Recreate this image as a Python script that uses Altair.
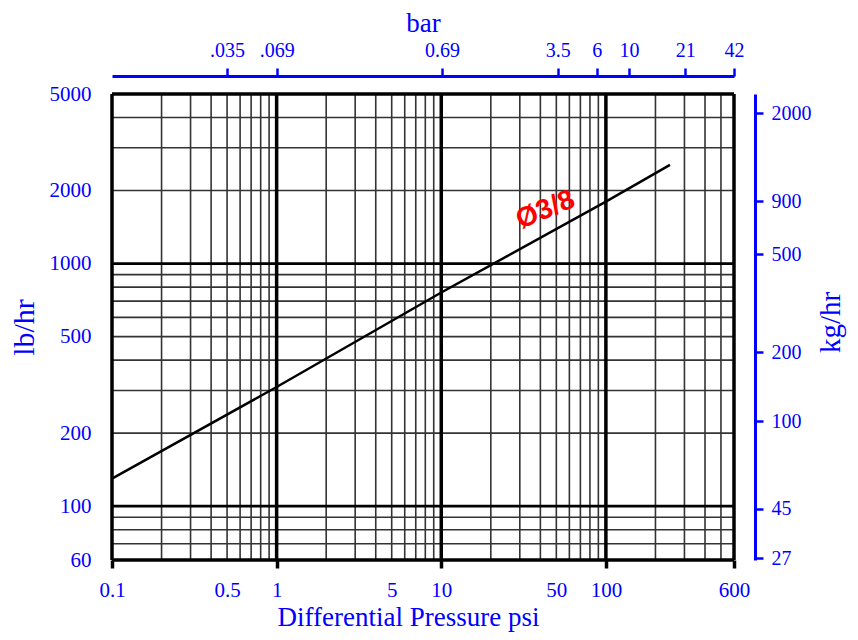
import altair as alt
import pandas as pd

# ---- data ----
psi = [0.1, 1, 10, 100, 245]
lbhr = [130, 310, 760, 1800, 2550]
curve_label = ["Ø3/8"]
label_psi = [43]
label_lb = [1660]

x_minor = [0.2, 0.3, 0.4, 0.5, 0.6, 0.7, 0.8, 0.9,
           2, 3, 4, 5, 6, 7, 8, 9,
           20, 30, 40, 50, 60, 70, 80, 90,
           200, 300, 400, 500]
x_major = [1, 10, 100]
x_frame = [0.1, 600]
y_minor = [70, 80, 90, 200, 300, 400, 500, 600, 700, 800, 900, 2000, 3000, 4000]
y_major = [100, 1000]
y_frame = [60, 5000]

bottom_vals = [0.1, 0.5, 1, 5, 10, 50, 100, 600]
bottom_no_tick = [0.5, 5, 50]
left_vals = [60, 100, 200, 500, 1000, 2000, 5000]
top_labels = [".035", ".069", "0.69", "3.5", "6", "10", "21", "42"]
top_pos_psi = [0.5, 1, 10.1, 51, 88, 138, 303, 600]
right_labels = ["2000", "900", "500", "200", "100", "45", "27"]
right_pos_lb = [4170, 1810, 1095, 432, 224, 97.4, 61.1]

BLUE = "#0000ff"
SERIF = "Liberation Serif"


def label_expr(pos, labs):
    expr = "''"
    for p, l in reversed(list(zip(pos, labs))):
        expr = f"datum.value == {p} ? '{l}' : ({expr})"
    return expr


xs = alt.Scale(type="log", domain=[0.1, 600], nice=False)
ys = alt.Scale(type="log", domain=[60, 5000], nice=False)

bottom_axis = alt.Axis(
    values=bottom_vals, format="~g", orient="bottom", grid=False, domain=False,
    tickColor="black", tickWidth=3.5, tickSize=8, labelFlush=False,
    tickOpacity={"condition": {"test": f"indexof({bottom_no_tick}, datum.value) >= 0", "value": 0}, "value": 1},
    labelColor=BLUE, labelFont=SERIF, labelFontSize=21, labelPadding=11,
    title="Differential Pressure psi", titleColor=BLUE, titleFont=SERIF,
    titleFontSize=27, titleFontWeight="normal", titlePadding=4, titleX=296,
)
left_axis = alt.Axis(
    values=left_vals, format="~g", orient="left", grid=False, domain=False,
    ticks=False, tickSize=0, labelFlush=False, labelColor=BLUE, labelFont=SERIF, labelFontSize=21,
    labelPadding=21, title="lb/hr", titleColor=BLUE, titleFont=SERIF,
    titleFontSize=30, titleFontWeight="normal", titlePadding=10,
)
top_axis = alt.Axis(
    values=top_pos_psi, labelExpr=label_expr(top_pos_psi, top_labels), orient="top",
    grid=False, offset=18, domain=True, domainColor=BLUE, domainWidth=3,
    tickColor=BLUE, tickWidth=2.5, tickSize=8, labelFlush=False,
    labelColor=BLUE, labelFont=SERIF, labelFontSize=20, labelPadding=8,
    title="bar", titleColor=BLUE, titleFont=SERIF, titleFontSize=27,
    titleFontWeight="normal", titlePadding=3,
)
right_axis = alt.Axis(
    values=right_pos_lb, labelExpr=label_expr(right_pos_lb, right_labels), orient="right",
    grid=False, offset=21, domain=True, domainColor=BLUE, domainWidth=3,
    tickColor=BLUE, tickWidth=2.5, tickSize=8, labelFlush=False,
    labelColor=BLUE, labelFont=SERIF, labelFontSize=20, labelPadding=8,
    title="kg/hr", titleColor=BLUE, titleFont=SERIF, titleFontSize=29,
    titleFontWeight="normal", titleAngle=270, titleX=75, titleY=228,
    titleAlign="center", titleBaseline="middle",
)

vminor = alt.Chart(pd.DataFrame({"v": x_minor})).mark_rule(color="#333333", strokeWidth=1.6).encode(
    x=alt.X("v:Q", scale=xs, axis=None))
hminor = alt.Chart(pd.DataFrame({"v": y_minor})).mark_rule(color="#333333", strokeWidth=1.6).encode(
    y=alt.Y("v:Q", scale=ys, axis=None))
vmajor = alt.Chart(pd.DataFrame({"v": x_major})).mark_rule(color="black", strokeWidth=3.5).encode(
    x=alt.X("v:Q", scale=xs, axis=None))
hmajor = alt.Chart(pd.DataFrame({"v": y_major})).mark_rule(color="black", strokeWidth=2.8).encode(
    y=alt.Y("v:Q", scale=ys, axis=None))
vframe = alt.Chart(pd.DataFrame({"v": x_frame})).mark_rule(color="black", strokeWidth=3.5).encode(
    x=alt.X("v:Q", scale=xs, axis=None))
hframe = alt.Chart(pd.DataFrame({"v": y_frame})).mark_rule(color="black", strokeWidth=3.5).encode(
    y=alt.Y("v:Q", scale=ys, axis=None))

curve = alt.Chart(pd.DataFrame({"psi": psi, "lb": lbhr})).mark_line(color="black", strokeWidth=2.5).encode(
    x=alt.X("psi:Q", scale=xs, axis=bottom_axis),
    y=alt.Y("lb:Q", scale=ys, axis=left_axis),
)
label = alt.Chart(pd.DataFrame({"psi": label_psi, "lb": label_lb, "t": curve_label})).mark_text(
    color="red", font="Liberation Sans Narrow, Liberation Sans", fontWeight="bold", fontSize=28, angle=338,
    align="center", baseline="middle").encode(
    x=alt.X("psi:Q", scale=xs, axis=None),
    y=alt.Y("lb:Q", scale=ys, axis=None),
    text="t:N",
)
top_layer = alt.Chart(pd.DataFrame({"v": top_pos_psi})).mark_rule(opacity=0).encode(
    x=alt.X("v:Q", scale=xs, axis=top_axis))
right_layer = alt.Chart(pd.DataFrame({"v": right_pos_lb})).mark_rule(opacity=0).encode(
    y=alt.Y("v:Q", scale=ys, axis=right_axis))

chart = alt.layer(vminor, hminor, vmajor, hmajor, vframe, hframe, curve, label, top_layer, right_layer).resolve_scale(
    x="independent", y="independent"
).properties(
    width=622, height=466,
    autosize=alt.AutoSizeParams(type="none"),
    padding={"left": 104, "top": 86, "right": 116, "bottom": 74},
).configure_view(stroke=None).configure(background="white")

chart.save("out.html", embed_options={"renderer": "svg", "actions": False})
